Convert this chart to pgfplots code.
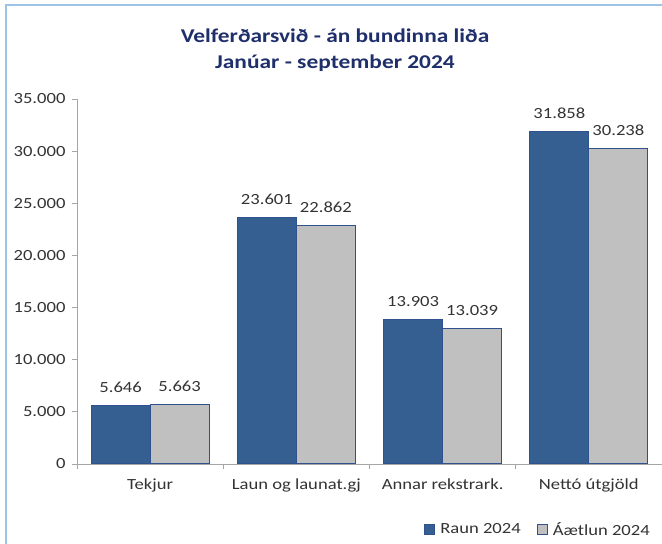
\documentclass[border=0pt]{standalone}
\usepackage{pgfplots}
\pgfplotsset{compat=1.18}
\usepackage{fontspec}
\setmainfont{Carlito}[FakeStretch=1.2]
\definecolor{rblue}{HTML}{365F91}
\definecolor{rgray}{HTML}{C0C0C0}
\definecolor{redge}{HTML}{2F528F}
\definecolor{tnavy}{HTML}{1F2F6B}
\definecolor{frame}{HTML}{9DC3E6}
\definecolor{axgray}{HTML}{A6A6A6}
\begin{document}
\begin{tikzpicture}
\useasboundingbox (0,0) rectangle (662pt,544pt);
\draw[frame, line width=1.2pt] (6pt,0) -- (6pt,539pt) -- (662pt,539pt);
\node[font=\fontsize{19.5}{22}\selectfont\bfseries, text=tnavy, anchor=base] at (335pt,501pt) {Velferðarsvið - án bundinna liða};
\node[font=\fontsize{19.5}{22}\selectfont\bfseries, text=tnavy, anchor=base] at (335pt,475pt) {Janúar - september 2024};
\begin{axis}[
  at={(77pt,80pt)}, anchor=south west,
  scale only axis, width=585pt, height=365pt,
  ymin=0, ymax=35000, ytick={0,5000,...,35000},
  xmin=-0.5, xmax=3.5, xtick={0,1,2,3},
  xticklabels={Tekjur, Laun og launat.gj, Annar rekstrark., Nettó útgjöld},
  minor xtick={-0.5,0.5,1.5,2.5,3.5},
  axis x line*=bottom, axis y line*=left,
  axis line style={draw=axgray, line width=0.9pt},
  tick align=outside,
  major tick length=5pt, minor tick length=5pt,
  major x tick style={draw=none},
  minor x tick style={draw=axgray, line width=0.9pt},
  major y tick style={draw=axgray, line width=0.9pt},
  ticklabel style={font=\fontsize{15.5}{18}\selectfont, text=black!80},
  xticklabel style={yshift=-6pt},
  yticklabel style={xshift=-3pt},
  scaled y ticks=false,
  ybar=0pt, bar width=59pt,
  legend image code/.code={\draw[#1] (0pt,-5pt) rectangle (10pt,5pt);},
  legend style={at={(0.988,-0.18)}, anchor=east, draw=none, fill=none,
    font=\fontsize{15.5}{18}\selectfont, text=black!80,
    /tikz/every odd column/.append style={column sep=3pt},
    /tikz/every even column/.append style={column sep=14pt}},
  legend columns=2,
  nodes near coords,
  every node near coord/.append style={font=\fontsize{15.5}{18}\selectfont, text=black!80, yshift=9pt},
  /pgf/number format/.cd, 1000 sep={.}, assume math mode=true,
]
\addplot[fill=rblue, draw=redge, line width=1pt] coordinates {(0,5646) (1,23601) (2,13903) (3,31858)};
\addplot[fill=rgray, draw=redge, line width=1pt] coordinates {(0,5663) (1,22862) (2,13039) (3,30238)};
\legend{Raun 2024, Áætlun 2024}
\end{axis}
\end{tikzpicture}
\end{document}
